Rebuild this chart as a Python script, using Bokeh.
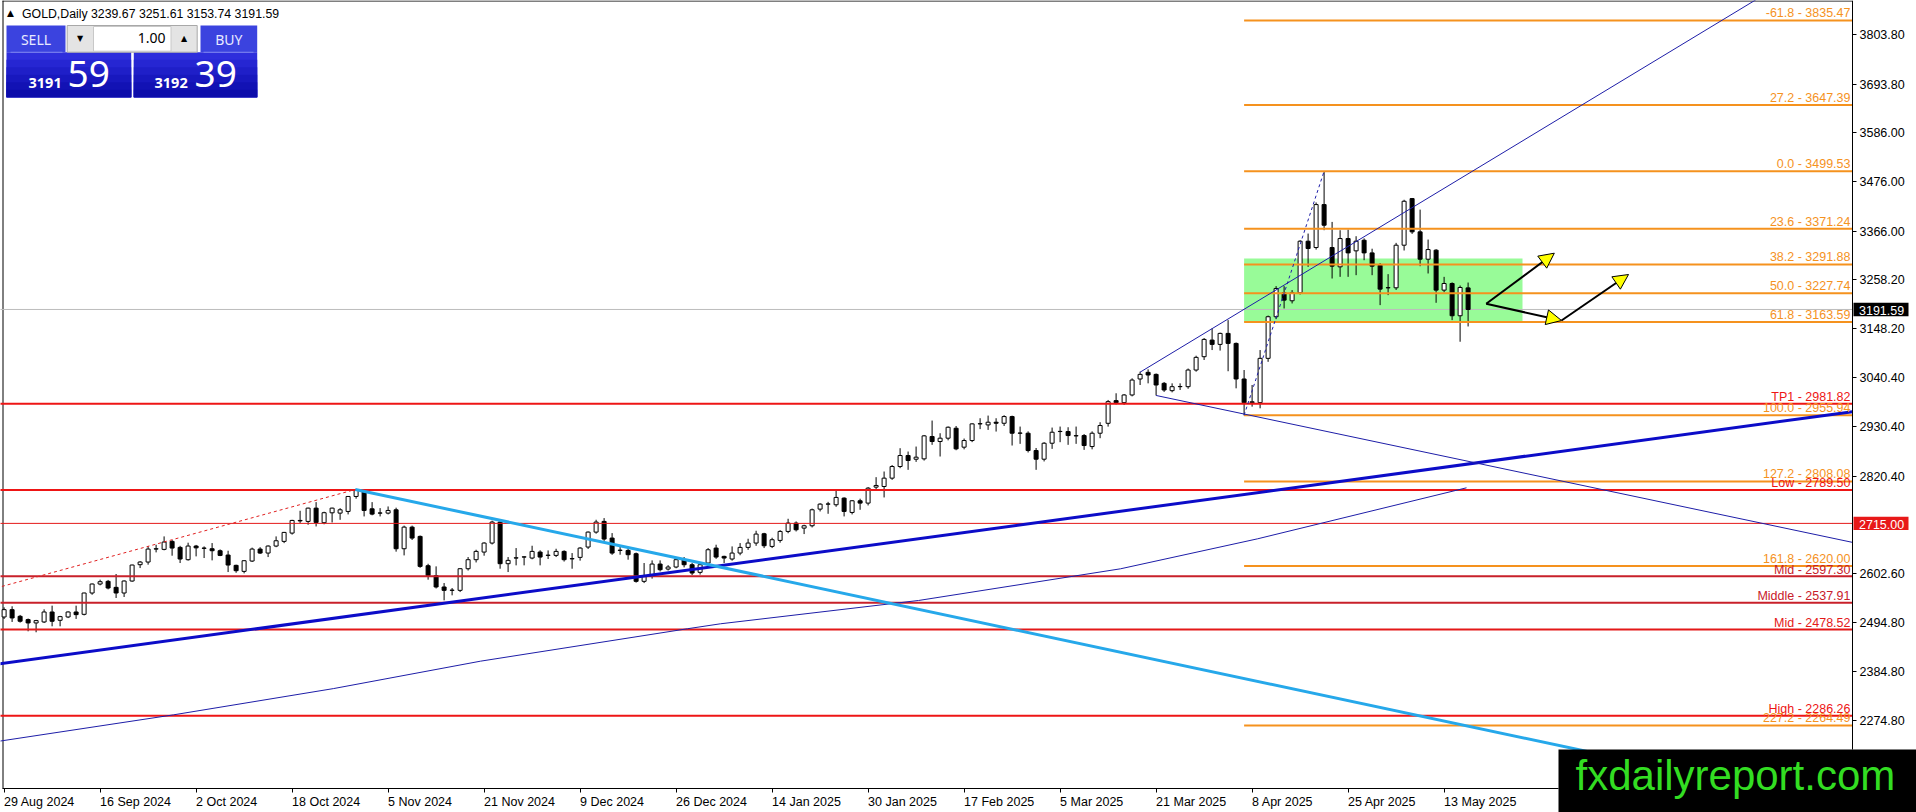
import numpy as np
from bokeh.plotting import figure
from bokeh.models import (Range1d, FixedTicker, NumeralTickFormatter, BoxAnnotation,
                          Arrow, NormalHead, ColumnDataSource)
from bokeh.core.properties import value
from bokeh.embed import file_html
from bokeh.resources import INLINE

# ------------------------------------------------------------------ data
date_ticks = [0, 12, 24, 36, 48, 60, 72, 84, 96, 108, 120, 132, 144, 156, 168, 180]
date_labels = ["29 Aug 2024", "16 Sep 2024", "2 Oct 2024", "18 Oct 2024", "5 Nov 2024",
               "21 Nov 2024", "9 Dec 2024", "26 Dec 2024", "14 Jan 2025", "30 Jan 2025",
               "17 Feb 2025", "5 Mar 2025", "21 Mar 2025", "8 Apr 2025", "25 Apr 2025",
               "13 May 2025"]
price_ticks = [3803.80, 3693.80, 3586.00, 3476.00, 3366.00, 3258.20, 3148.20, 3040.40,
               2930.40, 2820.40, 2602.60, 2494.80, 2384.80, 2274.80]

opens = [
    2506.5, 2522.8, 2508.0, 2500.6, 2493.2, 2495.4, 2517.6, 2499.1, 2506.5, 2517.6,
    2512.4, 2559.9, 2579.9, 2585.9, 2572.5, 2559.9, 2586.6, 2623.0, 2628.9, 2657.8,
    2657.1, 2674.9, 2661.5, 2634.1, 2664.5, 2660.0, 2658.5, 2654.1, 2644.5, 2621.5,
    2608.1, 2631.1, 2657.8, 2648.9, 2664.5, 2674.9, 2693.4, 2721.6, 2719.4, 2749.0,
    2716.5, 2738.6, 2737.9, 2741.6, 2775.0, 2788.3, 2747.5, 2737.9, 2737.9, 2745.3,
    2658.5, 2706.7, 2686.0, 2620.7, 2598.5, 2573.3, 2565.8, 2565.8, 2614.0, 2634.1,
    2651.1, 2671.2, 2717.9, 2625.2, 2637.8, 2640.0, 2637.8, 2651.1, 2643.7, 2643.7,
    2652.6, 2636.0, 2639.3, 2662.3, 2695.6, 2719.4, 2682.3, 2654.8, 2654.8, 2647.4,
    2585.9, 2598.5, 2624.4, 2613.3, 2617.8, 2634.1, 2622.9, 2605.9, 2626.7, 2660.0,
    2641.5, 2635.6, 2648.9, 2661.5, 2671.2, 2691.9, 2663.7, 2677.1, 2697.1, 2715.7,
    2704.5, 2709.7, 2746.8, 2757.9, 2756.5, 2771.3, 2739.4, 2765.4, 2760.2, 2795.8,
    2797.2, 2815.8, 2841.7, 2866.2, 2858.0, 2858.8, 2908.5, 2897.4, 2904.8, 2927.0,
    2884.8, 2899.6, 2936.7, 2934.4, 2940.4, 2938.1, 2953.0, 2915.9, 2915.9, 2877.3,
    2858.0, 2893.6, 2919.6, 2919.6, 2910.0, 2910.7, 2886.2, 2915.9, 2938.0, 2988.5,
    2984.0, 3001.1, 3036.7, 3051.5, 3047.0, 3027.0, 3010.7, 3019.6, 3019.6, 3056.7,
    3086.4, 3123.4, 3113.8, 3138.3, 3116.0, 3036.7, 2984.0, 2984.0, 3082.7, 3175.4,
    3228.8, 3211.0, 3228.8, 3343.7, 3329.6, 3425.3, 3329.6, 3286.6, 3349.6, 3322.2,
    3345.9, 3317.7, 3290.0, 3239.9, 3239.9, 3334.8, 3438.6, 3364.5, 3303.6, 3323.7,
    3234.7, 3249.5, 3177.6, 3239.67]
highs = [
    2528.0, 2530.3, 2511.0, 2503.0, 2500.0, 2523.5, 2531.7, 2509.0, 2519.0, 2531.7,
    2560.5, 2581.0, 2589.6, 2589.0, 2602.2, 2588.0, 2623.0, 2631.0, 2664.0, 2667.4,
    2686.0, 2678.0, 2665.0, 2672.0, 2667.0, 2663.7, 2671.2, 2657.0, 2654.1, 2623.0,
    2633.0, 2661.0, 2662.0, 2666.0, 2686.0, 2696.0, 2723.0, 2743.1, 2750.0, 2762.4,
    2741.0, 2750.0, 2749.0, 2776.0, 2790.5, 2790.0, 2762.4, 2749.0, 2752.7, 2750.0,
    2710.0, 2710.0, 2688.0, 2625.0, 2619.2, 2582.1, 2571.0, 2615.0, 2640.0, 2656.3,
    2673.0, 2721.0, 2721.0, 2640.0, 2660.0, 2641.5, 2665.2, 2655.0, 2654.8, 2658.5,
    2655.0, 2648.9, 2662.0, 2697.0, 2723.1, 2726.8, 2693.4, 2663.7, 2660.0, 2650.0,
    2626.7, 2632.6, 2632.6, 2622.0, 2638.0, 2640.0, 2627.0, 2626.7, 2660.0, 2667.5,
    2643.0, 2663.7, 2671.2, 2680.8, 2698.6, 2694.0, 2683.0, 2700.0, 2725.3, 2719.4,
    2712.0, 2748.0, 2760.0, 2763.0, 2787.6, 2773.0, 2767.0, 2770.0, 2796.0, 2818.0,
    2830.6, 2845.0, 2882.5, 2875.1, 2886.2, 2912.0, 2944.1, 2915.9, 2931.0, 2932.0,
    2904.0, 2938.0, 2949.3, 2955.2, 2949.3, 2956.0, 2955.0, 2930.7, 2920.0, 2883.0,
    2896.0, 2928.5, 2930.7, 2929.2, 2930.7, 2914.0, 2920.0, 2940.4, 2990.0, 3004.9,
    3003.0, 3038.2, 3053.0, 3058.2, 3049.0, 3030.0, 3027.0, 3027.0, 3060.0, 3088.6,
    3128.0, 3149.4, 3140.0, 3167.9, 3118.0, 3056.7, 3023.3, 3101.2, 3178.0, 3243.6,
    3243.6, 3234.7, 3346.0, 3360.7, 3430.0, 3499.53, 3386.7, 3368.2, 3369.6, 3354.8,
    3350.0, 3327.0, 3295.0, 3270.3, 3340.0, 3436.0, 3440.0, 3414.1, 3347.4, 3326.0,
    3264.3, 3252.0, 3245.0, 3251.61]
lows = [
    2502.0, 2495.4, 2494.0, 2474.6, 2472.4, 2493.0, 2485.7, 2485.7, 2504.0, 2502.1,
    2510.0, 2556.0, 2577.0, 2568.0, 2548.8, 2551.0, 2585.0, 2615.5, 2623.0, 2650.4,
    2655.0, 2643.0, 2626.7, 2632.0, 2641.5, 2637.8, 2632.6, 2642.0, 2606.6, 2605.0,
    2603.7, 2629.0, 2647.0, 2640.0, 2662.0, 2671.0, 2690.0, 2716.0, 2712.0, 2708.2,
    2713.0, 2717.0, 2723.0, 2735.0, 2770.0, 2730.5, 2733.0, 2730.5, 2735.0, 2652.0,
    2643.7, 2678.0, 2616.0, 2589.6, 2570.0, 2543.6, 2554.7, 2562.0, 2610.0, 2628.0,
    2643.0, 2668.0, 2614.0, 2606.6, 2621.5, 2621.5, 2635.0, 2621.5, 2635.6, 2640.0,
    2630.0, 2614.0, 2632.0, 2658.0, 2692.0, 2676.0, 2645.0, 2645.2, 2634.1, 2583.0,
    2582.0, 2592.0, 2608.0, 2610.0, 2615.0, 2617.0, 2600.0, 2601.0, 2622.0, 2636.0,
    2626.7, 2632.0, 2644.0, 2656.0, 2665.0, 2660.0, 2660.0, 2672.0, 2693.0, 2697.0,
    2691.2, 2706.0, 2741.6, 2736.4, 2752.0, 2730.5, 2735.0, 2745.3, 2755.0, 2790.0,
    2772.8, 2812.0, 2838.0, 2834.3, 2852.0, 2855.0, 2890.0, 2864.0, 2900.0, 2878.0,
    2880.0, 2896.0, 2925.0, 2923.3, 2919.6, 2932.0, 2888.5, 2892.2, 2873.0, 2834.3,
    2853.0, 2881.0, 2895.9, 2890.0, 2892.2, 2878.8, 2880.0, 2904.8, 2930.6, 2980.0,
    2979.0, 2998.0, 3023.3, 3027.0, 3000.0, 3008.0, 3007.0, 3012.2, 3015.0, 3053.0,
    3079.0, 3101.2, 3100.0, 3054.0, 3015.9, 2955.94, 2975.1, 2971.4, 3075.0, 3170.0,
    3193.9, 3205.0, 3225.0, 3286.6, 3325.0, 3368.2, 3260.6, 3264.3, 3264.3, 3268.0,
    3301.4, 3268.0, 3201.3, 3223.6, 3235.0, 3323.0, 3360.0, 3288.0, 3271.8, 3206.5,
    3230.0, 3167.9, 3119.7, 3153.74]
closes = [
    2522.8, 2504.3, 2497.0, 2493.2, 2498.4, 2517.6, 2496.9, 2507.3, 2517.6, 2511.7,
    2559.9, 2579.9, 2585.1, 2571.0, 2559.9, 2586.6, 2622.2, 2628.9, 2657.8, 2658.5,
    2673.4, 2660.0, 2635.6, 2664.5, 2660.5, 2659.5, 2654.1, 2643.7, 2622.2, 2609.6,
    2631.8, 2657.8, 2648.9, 2664.5, 2676.3, 2694.9, 2721.6, 2720.5, 2749.0, 2717.1,
    2738.8, 2749.0, 2745.3, 2775.0, 2788.3, 2743.8, 2735.7, 2738.2, 2743.8, 2658.5,
    2706.7, 2682.3, 2619.2, 2598.5, 2573.3, 2565.8, 2566.3, 2614.0, 2634.1, 2652.6,
    2671.2, 2717.9, 2625.2, 2632.6, 2638.3, 2640.4, 2652.6, 2640.0, 2644.2, 2652.6,
    2634.1, 2636.5, 2660.0, 2695.6, 2717.9, 2680.1, 2648.9, 2655.3, 2645.2, 2585.9,
    2598.5, 2624.4, 2611.8, 2617.8, 2634.1, 2622.9, 2604.4, 2622.9, 2656.3, 2640.0,
    2637.8, 2648.9, 2661.5, 2671.2, 2691.2, 2665.2, 2678.6, 2697.1, 2715.7, 2700.8,
    2709.7, 2745.3, 2757.9, 2758.3, 2772.8, 2741.6, 2765.4, 2760.2, 2793.5, 2799.5,
    2815.8, 2841.7, 2866.2, 2855.1, 2862.5, 2910.0, 2897.4, 2904.8, 2929.2, 2881.0,
    2899.6, 2936.7, 2937.2, 2940.4, 2938.1, 2953.0, 2915.9, 2916.3, 2877.3, 2858.0,
    2893.6, 2918.1, 2920.0, 2910.7, 2910.4, 2888.5, 2915.9, 2933.0, 2986.2, 2984.0,
    3001.1, 3034.4, 3047.0, 3045.6, 3023.3, 3012.2, 3019.6, 3020.0, 3056.7, 3084.9,
    3124.9, 3113.8, 3138.3, 3116.0, 3036.7, 2984.0, 2986.0, 3082.7, 3175.4, 3238.4,
    3212.4, 3228.8, 3343.7, 3327.4, 3425.3, 3379.3, 3288.1, 3349.6, 3317.7, 3343.7,
    3317.7, 3288.1, 3236.9, 3240.2, 3334.8, 3432.7, 3364.5, 3303.6, 3325.1, 3234.7,
    3249.5, 3177.6, 3240.6, 3191.59]

fib_ratios = ["-61.8", "27.2", "0.0", "23.6", "38.2", "50.0", "61.8", "100.0", "127.2", "161.8", "227.2"]
fib_prices = [3835.47, 3647.39, 3499.53, 3371.24, 3291.88, 3227.74, 3163.59, 2955.94, 2808.08, 2620.00, 2264.49]
level_names = ["TP1", "Low", "Mid", "Middle", "Mid", "High"]
level_prices = [2981.82, 2789.50, 2597.30, 2537.91, 2478.52, 2286.26]
level_colors = ["#EE1515", "#EE1515", "#C8202A", "#C8202A", "#E41818", "#EE1515"]
marker_2715 = 2715.00

# 200-period moving average at a few bars
ma_x = [-0.5, 21.2, 41.2, 59.55, 85.4, 89.55, 114.3, 139.55, 156.7, 182.8]
ma_v = [2230.0, 2288.5, 2347.0, 2408.0, 2480.2, 2491.3, 2543.2, 2613.8, 2680.7, 2794.3]

# drawn trend lines: (bar, price) end points
thick_blue = ([-1.0, 231.05], [2401.3, 2963.8])
cyan_line = ([43.9, 232.0], [2790.5, 2077.6])
red_dashed = ([-1.0, 43.9], [2571.0, 2790.5])
navy_up = ([142.0, 225.0], [3051.9, 3946.6])
navy_down = ([144.0, 231.05], [3000.0, 2672.7])
fib_link = ([155.0, 165.0], [2955.94, 3499.53])

# ------------------------------------------------------------------ geometry
W, H = 1916, 812
AX_X, AX_Y = 1852, 788          # pixel position of the price axis / date axis
X0, BAR = 3.6, 8.0
P_REF, Y_REF, PPP = 3803.8, 34.2, 2.228


def bx(px):
    return (px - X0) / BAR


def py(pv):
    return P_REF - (pv - Y_REF) * PPP


FONT = "Liberation Sans"
# distance (in em) from the alphabetic baseline up to the centre of the text box
MID_K = {"Liberation Sans": 0.3465, "Noto Sans": 0.388, "DejaVu Sans": 0.346}
ORANGE = "#F5921E"
XL, XR = -1.0, bx(AX_X)

p = figure(width=W, height=H, output_backend="svg", toolbar_location=None,
           x_range=Range1d(bx(0), bx(W)), y_range=Range1d(py(H), py(0)),
           y_axis_location="right",
           min_border=0, min_border_left=0, min_border_right=0,
           min_border_top=0, min_border_bottom=0,
           background_fill_color="white", border_fill_color="white",
           outline_line_color=None)
p.styles = {"position": "absolute", "left": "0px", "top": "0px"}
p.xgrid.visible = False
p.ygrid.visible = False

xa = p.xaxis[0]
xa.fixed_location = py(AX_Y)
xa.bounds = (bx(2), bx(1558))
xa.ticker = FixedTicker(ticks=date_ticks)
xa.major_label_overrides = {t: l for t, l in zip(date_ticks, date_labels)}
xa.major_label_orientation = -0.0001
xa.major_tick_out = 4
xa.major_tick_in = 0
xa.minor_tick_out = 0
xa.minor_tick_in = 0
xa.major_label_standoff = 9
xa.major_label_text_font = FONT
xa.major_label_text_font_size = "12.5px"
xa.major_label_text_color = "black"
xa.axis_line_color = "black"
xa.major_tick_line_color = "black"

ya = p.yaxis[0]
ya.fixed_location = bx(AX_X)
ya.bounds = (py(749), py(0))
ya.ticker = FixedTicker(ticks=price_ticks)
ya.formatter = NumeralTickFormatter(format="0.00")
ya.major_tick_out = 4
ya.major_tick_in = 0
ya.minor_tick_out = 0
ya.minor_tick_in = 0
ya.major_label_standoff = 3
ya.major_label_text_font = FONT
ya.major_label_text_font_size = "12.5px"
ya.major_label_text_color = "black"
ya.axis_line_color = "black"
ya.major_tick_line_color = "black"

# chart window border (left and top)
p.segment(x0=[bx(2.5), bx(2)], y0=[py(0), py(0.5)], x1=[bx(2.5), bx(AX_X)], y1=[py(AX_Y), py(0.5)],
          line_color="black", line_width=1)

# green zone behind the candles
p.add_layout(BoxAnnotation(left=155, right=bx(1522), top=3305.0, bottom=fib_prices[6],
                           fill_color="#98FB98", fill_alpha=1.0, line_color=None,
                           level="underlay"))

# bid line (behind the bars)
p.segment(x0=[XL], y0=[closes[-1]], x1=[XR], y1=[closes[-1]], line_color="#BDBDBD", line_width=1)

# candles
o = np.array(opens)
c = np.array(closes)
xs = np.arange(len(opens))
src = ColumnDataSource(dict(x=xs, o=o, h=highs, l=lows, c=c,
                            top=np.maximum(o, c), bot=np.minimum(o, c),
                            fill=["white" if cc >= oo else "black" for oo, cc in zip(o, c)]))
p.segment(x0="x", y0="h", x1="x", y1="l", source=src, line_color="black", line_width=1)
p.vbar(x="x", width=0.5, top="top", bottom="bot", source=src,
       fill_color="fill", line_color="black", line_width=1)

# horizontal level lines (drawn in front of the bars, as the terminal does)
p.segment(x0=[XL] * len(level_prices), y0=level_prices, x1=[XR] * len(level_prices),
          y1=level_prices, line_color=level_colors, line_width=2)
p.segment(x0=[XL], y0=[marker_2715], x1=[XR], y1=[marker_2715], line_color="#E41818", line_width=1)
p.segment(x0=[155] * len(fib_prices), y0=fib_prices, x1=[XR] * len(fib_prices),
          y1=fib_prices, line_color=ORANGE, line_width=2)

# trend lines and moving average
p.line(ma_x, ma_v, line_color="#1E1EA8", line_width=1)
p.line(*thick_blue, line_color="#0C0CC8", line_width=3)
p.line(*cyan_line, line_color="#26A8EA", line_width=3)
p.line(*red_dashed, line_color="#E02020", line_width=1, line_dash="3 3")
p.line(*navy_up, line_color="#1E1EA8", line_width=1)
p.line(*navy_down, line_color="#1E1EA8", line_width=1)
p.line(*fib_link, line_color="#1E1EA8", line_width=1, line_dash="3 3")

# level labels (baseline ~3 px above each line; positioned by text-box centre)
lab_x = bx(1850)
fs = 12.5
p.text(x=[lab_x] * len(fib_prices), y=[v + (2.9 + MID_K[FONT] * fs) * PPP for v in fib_prices],
       text=[f"{r} - {v:.2f}" for r, v in zip(fib_ratios, fib_prices)],
       text_align="right", text_baseline="middle", text_color=ORANGE,
       text_font=value(FONT), text_font_size=f"{fs}px")
p.text(x=[lab_x] * len(level_prices), y=[v + (2.3 + MID_K[FONT] * fs) * PPP for v in level_prices],
       text=[f"{n} - {v:.2f}" for n, v in zip(level_names, level_prices)],
       text_align="right", text_baseline="middle", text_color=level_colors,
       text_font=value(FONT), text_font_size=f"{fs}px")

# arrows
S = (bx(1485.7), py(303.3))
A = (bx(1553.8), py(252.7))
B = (bx(1561.0), py(320.0))
C = (bx(1628.0), py(274.0))
for (x0, y0), (x1, y1) in [(S, A), (S, B), (B, C)]:
    p.add_layout(Arrow(end=NormalHead(size=15, fill_color="#FFFF00", line_color="black", line_width=1),
                       x_start=x0, y_start=y0, x_end=x1, y_end=y1,
                       line_color="black", line_width=2))


# ------------------------------------------------------------------ screen decorations
def box(x0, y0, x1, y1, color, line=None):
    p.quad(left=[bx(x0)], right=[bx(x1)], top=[py(y0)], bottom=[py(y1)],
           fill_color=color, line_color=line if line else color,
           line_width=1, line_alpha=1.0 if line else 0.0)


def label(x, base, text, size, color="black", font=FONT, align="left", style="normal"):
    """text whose alphabetic baseline sits at pixel row `base`"""
    yc = base - MID_K[font] * size
    p.text(x=[bx(x)], y=[py(yc)], text=[text], text_font=value(font), text_font_size=f"{size}px",
           text_color=color, text_align=align, text_baseline="middle", text_font_style=style)


# title
label(6.5, 16.0, "\u25B2", 9, font="DejaVu Sans")
label(21.5, 17.3, "GOLD,Daily  " + " ".join(f"{v:.2f}" for v in
                                           (opens[-1], highs[-1], lows[-1], closes[-1])), 12.3)

# one-click trading panel
box(6, 25, 65, 51.7, "#3B43DF")
box(200, 25, 256.7, 51.7, "#3B43DF")
grad = ["#2E2EDC", "#2626D2", "#1F1FC8", "#1818BE", "#1212B4", "#0C0CAA"]
for k, col in enumerate(grad):
    y0 = 51.7 + k * 7.5
    box(6, y0, 130.7, 96.7, col)
    box(133.3, y0, 256.7, 96.7, col)
box(10, 51.2, 62, 52.2, "#7C84F0")
box(203, 51.2, 253, 52.2, "#7C84F0")
box(66.7, 25, 196.7, 51.7, "#E4E4E4", line="#A8A8A8")
box(93, 26, 170.5, 50.7, "white", line="#C8C8C8")
label(79.5, 40.5, "\u25BC", 8, font="DejaVu Sans", align="center")
label(183.5, 40.5, "\u25B2", 8, font="DejaVu Sans", align="center")
label(165, 43.3, "1.00", 14, font="Noto Sans", align="right")
label(35.5, 44.5, "SELL", 14, color="#E8EAFF", font="Noto Sans", align="center")
label(228.3, 44.5, "BUY", 14, color="#E8EAFF", font="Noto Sans", align="center")
label(28, 88.3, "3191", 14.5, color="white", font="Noto Sans", style="bold")
label(67, 88.3, "59", 37, color="white", font="Noto Sans")
label(154, 88.3, "3192", 14.5, color="white", font="Noto Sans", style="bold")
label(194, 88.3, "39", 37, color="white", font="Noto Sans")


# price tags on the axis
def tag(price, color):
    yc = Y_REF + (P_REF - price) / PPP
    box(1853, yc - 6.7, 1908, yc + 6.7, color)
    p.text(x=[bx(1858.5)], y=[py(yc + 0.8)], text=[f"{price:.2f}"], text_font=value(FONT),
           text_font_size="12.5px", text_color="white", text_align="left", text_baseline="middle")


tag(closes[-1], "black")
tag(marker_2715, "#E81818")

# watermark
box(1558, 749, 1930, 830, "black")
label(1575, 790, "fxdailyreport.com", 42, color="#33DD22")

open("out.html", "w").write(file_html(p, INLINE))
